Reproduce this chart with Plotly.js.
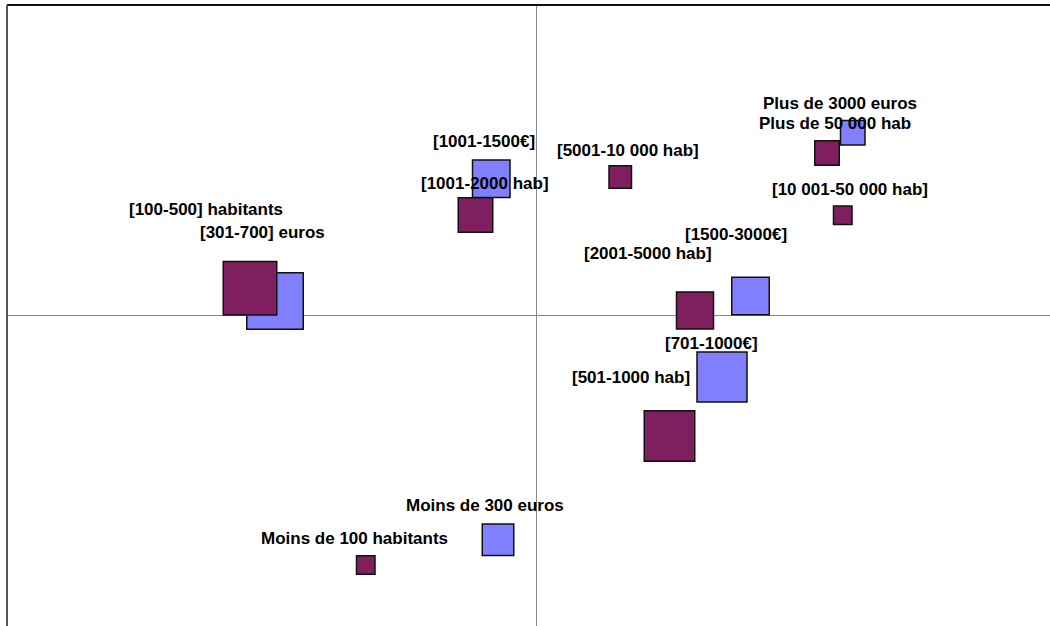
<!DOCTYPE html>
<html>
<head>
<meta charset="utf-8">
<script src="https://cdn.plot.ly/plotly-3.0.1.min.js"></script>
<style>html,body{margin:0;padding:0;background:#fff;}#chart{width:1050px;height:626px;}</style>
</head>
<body>
<div id="chart"></div>
<script>
// Population categories (purple)
const habLabels = ["[100-500] habitants", "[1001-2000 hab]", "[5001-10 000 hab]", "Plus de 50 000 hab",
                   "[10 001-50 000 hab]", "[2001-5000 hab]", "[501-1000 hab]", "Moins de 100 habitants"];
const habX = [-1.144, -0.242, 0.337, 1.164, 1.227, 0.636, 0.534, -0.681];
const habY = [0.107, 0.400, 0.552, 0.648, 0.399, 0.018, -0.484, -1.000];
const habSize = [55, 36, 24, 26, 20, 38.5, 52, 20];

// Income categories (blue)
const eurLabels = ["[301-700] euros", "[1001-1500€]", "Plus de 3000 euros", "[1500-3000€]", "[701-1000€]", "Moins de 300 euros"];
const eurX = [-1.044, -0.179, 1.267, 0.858, 0.744, -0.152];
const eurY = [0.056, 0.545, 0.729, 0.076, -0.248, -0.899];
const eurSize = [58, 39, 26, 39, 51.5, 33];

// label offsets in pixels (style)
const habShift = [[-44,79],[9,32],[8,27],[7.5,30],[7,26],[-47,57],[-38.5,59],[-11,27]];
const eurShift = [[-12.5,69],[-7,37],[-13,29],[-14.5,62],[-11,34],[-13,34]];

const LW = 1.5;
const traces = [
  {type:'scatter', mode:'markers', x:eurX, y:eurY, text:eurLabels, hoverinfo:'text',
   marker:{symbol:'square', color:'#8080FF', opacity:1, size:eurSize.map(s=>s-LW), line:{color:'#111', width:LW}}},
  {type:'scatter', mode:'markers', x:habX, y:habY, text:habLabels, hoverinfo:'text',
   marker:{symbol:'square', color:'#7F1F5F', opacity:1, size:habSize.map(s=>s-LW), line:{color:'#111', width:LW}}}
];

const font = {family:'"Liberation Sans", Arial, sans-serif', size:17, color:'#000', weight:'bold'};
const annotations = [];
habLabels.forEach((t,i)=>annotations.push({x:habX[i], y:habY[i], xref:'x', yref:'y', text:t, showarrow:false,
  xshift:habShift[i][0], yshift:habShift[i][1], xanchor:'center', yanchor:'middle', font:font}));
eurLabels.forEach((t,i)=>annotations.push({x:eurX[i], y:eurY[i], xref:'x', yref:'y', text:t, showarrow:false,
  xshift:eurShift[i][0], yshift:eurShift[i][1], xanchor:'center', yanchor:'middle', font:font}));

const layout = {
  width:1050, height:626,
  margin:{l:7, r:0, t:5, b:0, pad:0},
  paper_bgcolor:'#fff', plot_bgcolor:'#fff',
  showlegend:false,
  xaxis:{range:[-2.116, 2.056], showgrid:false, showticklabels:false, ticks:'', zeroline:true, zerolinecolor:'#888', zerolinewidth:1, fixedrange:true},
  yaxis:{range:[-1.244, 1.24], showgrid:false, showticklabels:false, ticks:'', zeroline:true, zerolinecolor:'#888', zerolinewidth:1, fixedrange:true},
  shapes:[
    {type:'line', xref:'paper', yref:'paper', x0:0, x1:1, y0:1, y1:1, line:{color:'#111', width:2}},
    {type:'line', xref:'paper', yref:'paper', x0:0, x1:0, y0:0, y1:1, line:{color:'#555', width:2}}
  ],
  annotations:annotations
};
Plotly.newPlot('chart', traces, layout, {displayModeBar:false, staticPlot:true});
</script>
</body>
</html>
